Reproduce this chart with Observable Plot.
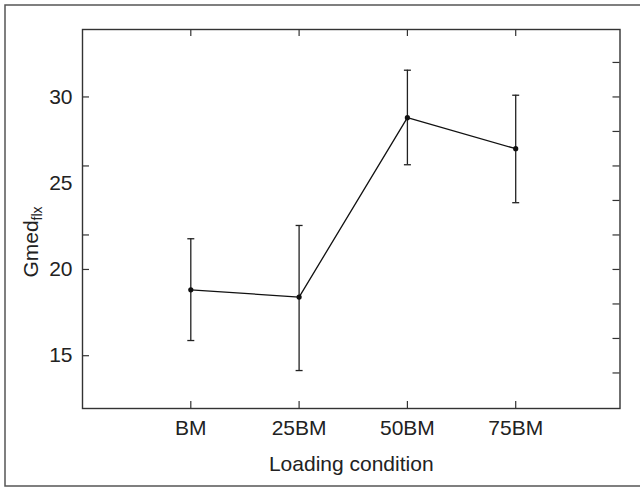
<!DOCTYPE html>
<html>
<head>
<meta charset="utf-8">
<script src="https://cdn.jsdelivr.net/npm/d3@7"></script>
<script src="https://cdn.jsdelivr.net/npm/@observablehq/plot@0.6"></script>
<style>
  html, body { margin: 0; padding: 0; background: #fff; }
  #chart { width: 640px; height: 487px; }
</style>
</head>
<body>
<div id="chart"></div>
<script>
// ---- data ----
const categories = ["BM", "25BM", "50BM", "75BM"];
const means = [18.82, 18.4, 28.8, 27.0];
const upper = [21.78, 22.55, 31.55, 30.1];
const lower = [15.88, 14.14, 26.07, 23.87];
const yLabelTicks = [15, 20, 25, 30];
const yLeftTickMarks = [15, 20, 22, 26, 30];
const yRightTickMarks = [14, 16, 18, 20, 22, 24, 26, 28, 30, 32];
const xLabel = "Loading condition";
const yLabelMain = "Gmed";
const yLabelSub = "flx";

const rows = categories.map((c, i) => ({pos: i + 1, cat: c, mean: means[i], hi: upper[i], lo: lower[i]}));
const positions = rows.map(d => d.pos);

const W = 640, H = 487;
const mL = 82, mT = 29, mR = 20.5, mB = 79;
const pw = W - mL - mR, ph = H - mT - mB;
const tickLen = 7;

const capSymbol = {
  draw(context, size) {
    const r = Math.sqrt(size / Math.PI);
    context.moveTo(-r, 0);
    context.lineTo(r, 0);
  }
};

const chart = Plot.plot({
  width: W,
  height: H,
  marginLeft: mL,
  marginTop: mT,
  marginRight: mR,
  marginBottom: mB,
  style: {fontFamily: "'Liberation Sans', Arial, sans-serif", fontSize: "21px", color: "#222", background: "white"},
  x: {domain: [0, 4.963]},
  y: {domain: [11.94, 33.91]},
  marks: [
    Plot.frame({stroke: "#333", strokeWidth: 1.4}),
    // tick marks (inward)
    Plot.tickY(yLeftTickMarks, {y: d => d, insetRight: pw - tickLen, stroke: "#333", strokeWidth: 1.2}),
    Plot.tickY(yRightTickMarks, {y: d => d, insetLeft: pw - tickLen, stroke: "#333", strokeWidth: 1.2}),
    Plot.tickX(positions, {x: d => d, insetBottom: ph - tickLen, stroke: "#333", strokeWidth: 1.2}),
    Plot.tickX(positions, {x: d => d, insetTop: ph - tickLen, stroke: "#333", strokeWidth: 1.2}),
    // axis labels
    Plot.axisY(yLabelTicks, {tickSize: 0, tickPadding: 10, label: null, fill: "#222"}),
    Plot.axisX(positions, {tickSize: 0, tickPadding: 12, tickFormat: i => categories[i - 1], label: null, fill: "#222"}),
    Plot.text([xLabel], {frameAnchor: "bottom", lineAnchor: "top", dy: 48, fill: "#222"}),
    // error bars
    Plot.ruleX(rows, {x: "pos", y1: "lo", y2: "hi", stroke: "#222", strokeWidth: 1.3}),
    Plot.dot(rows, {x: "pos", y: "hi", symbol: capSymbol, r: 3.5, stroke: "#222", strokeWidth: 1.3, fill: "none"}),
    Plot.dot(rows, {x: "pos", y: "lo", symbol: capSymbol, r: 3.5, stroke: "#222", strokeWidth: 1.3, fill: "none"}),
    // mean line and points
    Plot.line(rows, {x: "pos", y: "mean", stroke: "#111", strokeWidth: 1.3}),
    Plot.dot(rows, {x: "pos", y: "mean", r: 2.6, fill: "#111", stroke: "none"})
  ]
});

document.getElementById("chart").appendChild(chart);

// outer border and subscripted y label
const svg = d3.select(chart);
svg.append("path")
  .attr("d", `M${W},5H5V486H${W}`)
  .attr("fill", "none")
  .attr("stroke", "#555")
  .attr("stroke-width", 1.5);

const t = svg.append("text")
  .attr("transform", "translate(37.5,242) rotate(-90)")
  .attr("text-anchor", "middle")
  .attr("fill", "#222")
  .attr("font-size", 21);
t.append("tspan").text(yLabelMain);
t.append("tspan").attr("font-size", 14).attr("dy", 4).text(yLabelSub);
</script>
</body>
</html>
